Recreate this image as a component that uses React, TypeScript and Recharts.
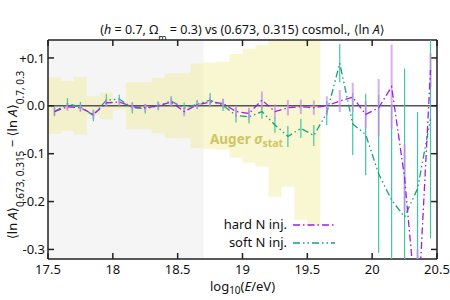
import React from 'react';
import {
  ComposedChart,
  Line,
  Area,
  XAxis,
  YAxis,
  ReferenceArea,
  ReferenceLine,
  ErrorBar,
  Legend,
  Customized,
} from 'recharts';

// Bin centres in log10(E/eV)
const energyBins = [
  17.55, 17.65, 17.75, 17.85, 17.95, 18.05, 18.15, 18.25, 18.35, 18.45,
  18.55, 18.65, 18.75, 18.85, 18.95, 19.05, 19.15, 19.25, 19.35, 19.45,
  19.55, 19.65, 19.75, 19.85, 19.95, 20.05, 20.15, 20.25, 20.35, 20.45,
];

// Shift of <ln A> between the two cosmologies, hard N injection
const hardShift = [
  -0.012, -0.002, -0.004, -0.018, 0.006, 0.008, -0.002, -0.004, 0.0, 0.008,
  -0.012, 0.002, 0.008, 0.005, -0.012, -0.016, 0.012, -0.012, -0.004, -0.002,
  -0.004, 0.0, 0.01, 0.018, -0.018, -0.004, 0.04, -0.15, -0.45, 0.075,
];
const hardErr = [
  0.008, 0.008, 0.008, 0.009, 0.008, 0.008, 0.008, 0.008, 0.008, 0.009,
  0.01, 0.009, 0.01, 0.01, 0.012, 0.012, 0.018, 0.015, 0.016, 0.015,
  0.015, 0.02, 0.023, 0.03, 0.028, 0.06, 0.088, 0.07, 0.15, 0.035,
];

// Same shift, soft N injection
const softShift = [
  -0.012, 0.004, -0.002, -0.02, 0.012, 0.014, -0.004, -0.006, 0.0, 0.01,
  -0.005, 0.003, 0.012, 0.001, -0.02, -0.023, -0.012, -0.04, -0.064, -0.047,
  -0.062, -0.015, 0.089, -0.038, -0.06, -0.142, -0.197, -0.232, -0.173, -0.027,
];
const softErr = [
  0.01, 0.012, 0.01, 0.012, 0.012, 0.009, 0.012, 0.01, 0.009, 0.01,
  0.012, 0.009, 0.015, 0.012, 0.015, 0.014, 0.015, 0.016, 0.022, 0.02,
  0.022, 0.025, 0.04, 0.065, 0.085, 0.165, 0.2, 0.31, 0.16, 0.25,
];

// Auger statistical uncertainty band, one step per 0.1 bin (last value closes the band)
const augerEdges = [
  17.5, 17.6, 17.7, 17.8, 17.9, 18.0, 18.1, 18.2, 18.3, 18.4, 18.5,
  18.6, 18.7, 18.8, 18.9, 19.0, 19.1, 19.2, 19.3, 19.4, 19.5, 19.6,
];
const augerSigma = [
  0.059, 0.052, 0.06, 0.02, 0.028, 0.008, 0.049, 0.049, 0.058, 0.067, 0.068,
  0.088, 0.09, 0.092, 0.108, 0.119, 0.127, 0.19, 0.169, 0.238, 0.25, 0.25,
];

const xTicks = [17.5, 18, 18.5, 19, 19.5, 20, 20.5];
const yTicks = [-0.3, -0.2, -0.1, 0, 0.1];
const xDomain: [number, number] = [17.5, 20.5];
const yDomain: [number, number] = [-0.32, 0.1375];
const subAnkleLimit = 18.7;

// Layout of the chart frame
const CHART_W = 450;
const CHART_H = 300;
const MARGIN = { top: 30, right: 3, bottom: 0, left: 0 };
const TOP_AXIS_H = 10;
const BOTTOM_AXIS_H = 41;
const LEFT_AXIS_W = 48;
const RIGHT_AXIS_W = 10;
const PLOT = {
  x: MARGIN.left + LEFT_AXIS_W,
  y: MARGIN.top + TOP_AXIS_H,
  width: CHART_W - MARGIN.left - MARGIN.right - LEFT_AXIS_W - RIGHT_AXIS_W,
  height: CHART_H - MARGIN.top - MARGIN.bottom - TOP_AXIS_H - BOTTOM_AXIS_H,
};
const PLOT_MARGIN = {
  top: PLOT.y,
  left: PLOT.x,
  right: CHART_W - PLOT.x - PLOT.width,
  bottom: CHART_H - PLOT.y - PLOT.height,
};

const HARD_LINE = '#9b1fe8';
const HARD_BAR = '#c98aec';
const SOFT_LINE = '#17a07c';
const SOFT_BAR = '#3fc8a1';
const FONT = '"Noto Sans", "DejaVu Sans", sans-serif';

const points = energyBins.map((e, i) => ({
  e,
  hard: hardShift[i],
  hardErr: hardErr[i],
  soft: softShift[i],
  softErr: softErr[i],
}));

const band = augerEdges.map((e, i) => ({ e, range: [-augerSigma[i], augerSigma[i]] }));

const fmtY = (v: number) => (v > 0 ? `+${v.toFixed(1)}` : v.toFixed(1));
const blank = () => '';

const legendItems = [
  { label: 'hard N inj.', color: HARD_LINE, dash: '7 3 1.5 3' },
  { label: 'soft N inj.', color: SOFT_LINE, dash: '7 3 1.5 3 1.5 3' },
];

const LegendBox = () => (
  <svg width={140} height={40} style={{ display: 'block', fontFamily: FONT }}>
    {legendItems.map((it, i) => (
      <g key={it.label}>
        <text x={82} y={15 + i * 18} textAnchor="end" fontSize={13} fill="#111">
          {it.label}
        </text>
        <line
          x1={88}
          x2={130}
          y1={11 + i * 18}
          y2={11 + i * 18}
          stroke={it.color}
          strokeWidth={1.3}
          strokeDasharray={it.dash}
        />
      </g>
    ))}
  </svg>
);

const Annotations = () => (
  <g style={{ fontFamily: FONT }}>
    <text x={242.5} y={34} textAnchor="middle" fontSize={12.5} fill="#111">
      (<tspan fontStyle="italic">h</tspan> = 0.7, Ω
      <tspan baselineShift="sub" fontSize={9}>m</tspan> = 0.3) vs (0.673, 0.315) cosmol., ⟨ln{' '}
      <tspan fontStyle="italic">A</tspan>⟩
    </text>
    <text
      transform="translate(17,155) rotate(-90)"
      textAnchor="middle"
      fontSize={13}
      fill="#111"
    >
      ⟨ln <tspan fontStyle="italic">A</tspan>⟩
      <tspan baselineShift="sub" fontSize={10}>0.673, 0.315</tspan> − ⟨ln{' '}
      <tspan fontStyle="italic">A</tspan>⟩
      <tspan baselineShift="sub" fontSize={10}>0.7, 0.3</tspan>
    </text>
    <text x={242.5} y={291} textAnchor="middle" fontSize={13} fill="#111">
      log<tspan baselineShift="-2.5" fontSize={10}>10</tspan>(
      <tspan fontStyle="italic">E</tspan>/eV)
    </text>
    <text x={210} y={144} fontSize={13.5} fontWeight="bold" fill="#b1a534">
      Auger <tspan fontStyle="italic">σ</tspan>
      <tspan baselineShift="-3" fontSize={10.5}>stat</tspan>
    </text>
    <text x={126} y={229} textAnchor="middle" fontSize={13} fontWeight="bold" fill="#9a9a9a">
      subdominant w.r.t.
    </text>
    <text x={126} y={248} textAnchor="middle" fontSize={13} fontWeight="bold" fill="#9a9a9a">
      light sub-ankle comp.
    </text>
  </g>
);

export default function App() {
  const axisStroke = { stroke: '#222', strokeWidth: 1.5 };
  const plotInset = `inset(${PLOT_MARGIN.top}px ${PLOT_MARGIN.right}px ${PLOT_MARGIN.bottom}px ${PLOT_MARGIN.left}px)`;
  return (
    <div style={{ position: 'absolute', left: 0, top: 0, width: CHART_W, height: CHART_H, background: '#fff' }}>
      {/* Frame, axes, shaded regions, band and annotations */}
      <ComposedChart width={CHART_W} height={CHART_H} data={points} margin={MARGIN} style={{ fontFamily: FONT }}>
        <XAxis
          xAxisId="b"
          dataKey="e"
          type="number"
          domain={xDomain}
          ticks={xTicks}
          height={BOTTOM_AXIS_H}
          tickSize={-6}
          tickMargin={12}
          axisLine={axisStroke}
          tickLine={axisStroke}
          tick={{ fill: '#111', fontSize: 13 }}
          allowDataOverflow
        />
        <XAxis
          xAxisId="t"
          dataKey="e"
          orientation="top"
          type="number"
          domain={xDomain}
          ticks={xTicks}
          height={TOP_AXIS_H}
          tickSize={-6}
          tickFormatter={blank}
          axisLine={axisStroke}
          tickLine={axisStroke}
          allowDataOverflow
        />
        <YAxis
          yAxisId="l"
          type="number"
          domain={yDomain}
          ticks={yTicks}
          width={LEFT_AXIS_W}
          tickSize={-6}
          tickMargin={9}
          tickFormatter={fmtY}
          axisLine={axisStroke}
          tickLine={axisStroke}
          tick={{ fill: '#111', fontSize: 13 }}
          allowDataOverflow
        />
        <YAxis
          yAxisId="r"
          orientation="right"
          type="number"
          domain={yDomain}
          ticks={yTicks}
          width={RIGHT_AXIS_W}
          tickSize={-6}
          tickFormatter={blank}
          axisLine={axisStroke}
          tickLine={axisStroke}
          allowDataOverflow
        />
        <ReferenceArea
          xAxisId="b"
          yAxisId="l"
          x1={xDomain[0]}
          x2={subAnkleLimit}
          fill="#f5f5f5"
          fillOpacity={1}
          stroke="none"
        />
        <Area
          xAxisId="b"
          yAxisId="l"
          data={band}
          dataKey="range"
          type="stepAfter"
          stroke="none"
          fill="#f2ea9c"
          fillOpacity={0.45}
          activeDot={false}
          isAnimationActive={false}
        />
        <ReferenceLine xAxisId="b" yAxisId="l" y={0} stroke="#555" strokeWidth={1.5} />
        <Legend
          layout="vertical"
          align="center"
          verticalAlign="middle"
          content={LegendBox}
          wrapperStyle={{ left: 205, top: 214, width: 140, height: 40 }}
        />
        <Customized component={Annotations} />
      </ComposedChart>

      {/* Data series, on the same scales, clipped to the plot area */}
      <div style={{ position: 'absolute', left: 0, top: 0, width: CHART_W, height: CHART_H, clipPath: plotInset }}>
        <ComposedChart width={CHART_W} height={CHART_H} data={points} margin={PLOT_MARGIN}>
          <XAxis dataKey="e" type="number" domain={xDomain} hide allowDataOverflow />
          <YAxis type="number" domain={yDomain} hide allowDataOverflow />
          <Line
            dataKey="soft"
            stroke={SOFT_LINE}
            strokeWidth={1.3}
            strokeDasharray="7 3 1.5 3 1.5 3"
            dot={false}
            activeDot={false}
            type="linear"
            isAnimationActive={false}
          >
            <ErrorBar dataKey="softErr" direction="y" width={0} stroke={SOFT_BAR} strokeWidth={1.2} />
          </Line>
          <Line
            dataKey="hard"
            stroke={HARD_LINE}
            strokeWidth={1.3}
            strokeDasharray="7 3 1.5 3"
            dot={false}
            activeDot={false}
            type="linear"
            isAnimationActive={false}
          >
            <ErrorBar dataKey="hardErr" direction="y" width={0} stroke={HARD_BAR} strokeOpacity={0.7} strokeWidth={2} />
          </Line>
        </ComposedChart>
      </div>
    </div>
  );
}
